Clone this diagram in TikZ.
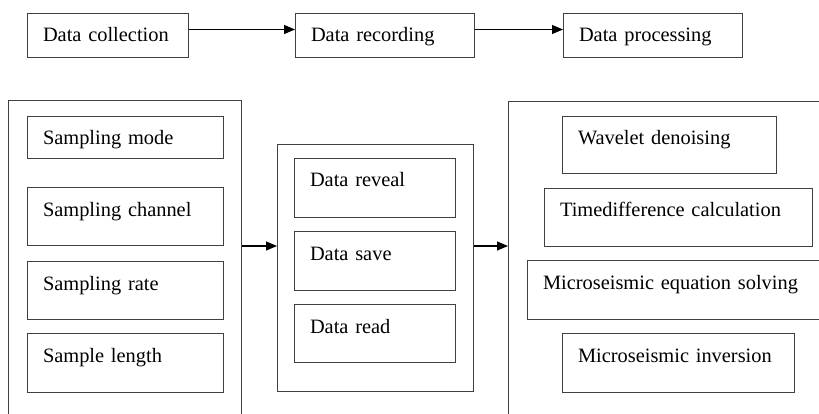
\documentclass[tikz,border=0pt]{standalone}
\usepackage{fontspec}
\setmainfont{Liberation Serif}
\usetikzlibrary{arrows.meta}

\begin{document}
\begin{tikzpicture}[x=1pt,y=-1pt,line width=1pt,
  box/.style={draw=black!75,anchor=north west,inner xsep=15.5pt,inner ysep=0pt,
    align=left,text height=28.5pt,font=\fontsize{20.4}{24}\selectfont},
  group/.style={draw=black!75,anchor=north west,inner sep=0pt},
  flow/.style={-{Triangle[length=11pt,width=9pt]},line width=1.1pt}]
 \useasboundingbox (0,0) rectangle (819,414);
 \clip (0,0) rectangle (819,414);
 % top row
 \node[box,text width=130pt,text depth=15.5pt] (collect) at (27,13) {Data collection};
 \node[box,text width=148pt,text depth=15.5pt] (record) at (295,13) {Data recording};
 \node[box,text width=148pt,text depth=15.5pt] (process) at (563,13) {Data processing};
 \draw[flow] ([yshift=6pt]collect.east) -- ([yshift=6pt]record.west);
 \draw[flow] ([yshift=6pt]record.east) -- ([yshift=6pt]process.west);
 % groups
 \node[group,minimum width=233pt,minimum height=330pt] (leftgrp) at (8,100) {};
 \node[group,minimum width=196pt,minimum height=247pt] (midgrp) at (277,144) {};
 \node[group,minimum width=322pt,minimum height=330pt] (rightgrp) at (508,101) {};
 % collection
 \node[box,text width=165pt,text depth=13.5pt] (mode) at (27,116) {Sampling mode};
 \node[box,text width=165pt,text depth=29.5pt] (channel) at (27,187) {Sampling channel};
 \node[box,text width=165pt,text depth=29.5pt] (rate) at (27,261) {Sampling rate};
 \node[box,text width=165pt,text depth=30.5pt] (length) at (27,333) {Sample length};
 % recording
 \node[box,text width=130pt,text depth=30.5pt] (reveal) at (294,158) {Data reveal};
 \node[box,text width=130pt,text depth=30.5pt] (save) at (294,231) {Data save};
 \node[box,text width=130pt,text depth=29.5pt] (read) at (294,304) {Data read};
 % processing
 \node[box,text width=183pt,text depth=28.5pt] (wavelet) at (562,116) {Wavelet denoising};
 \node[box,text width=237pt,text depth=29.5pt] (timediff) at (544,188) {Timedifference calculation};
 \node[box,text width=272pt,text depth=30.5pt] (equation) at (527,260) {Microseismic equation solving};
 \node[box,text width=201pt,text depth=30.5pt] (inversion) at (562,333) {Microseismic inversion};
 \coordinate (lane) at (0,246);
 \draw[flow] (leftgrp.east |- lane) -- (midgrp.west |- lane);
 \draw[flow] (midgrp.east |- lane) -- (rightgrp.west |- lane);
\end{tikzpicture}
\end{document}
